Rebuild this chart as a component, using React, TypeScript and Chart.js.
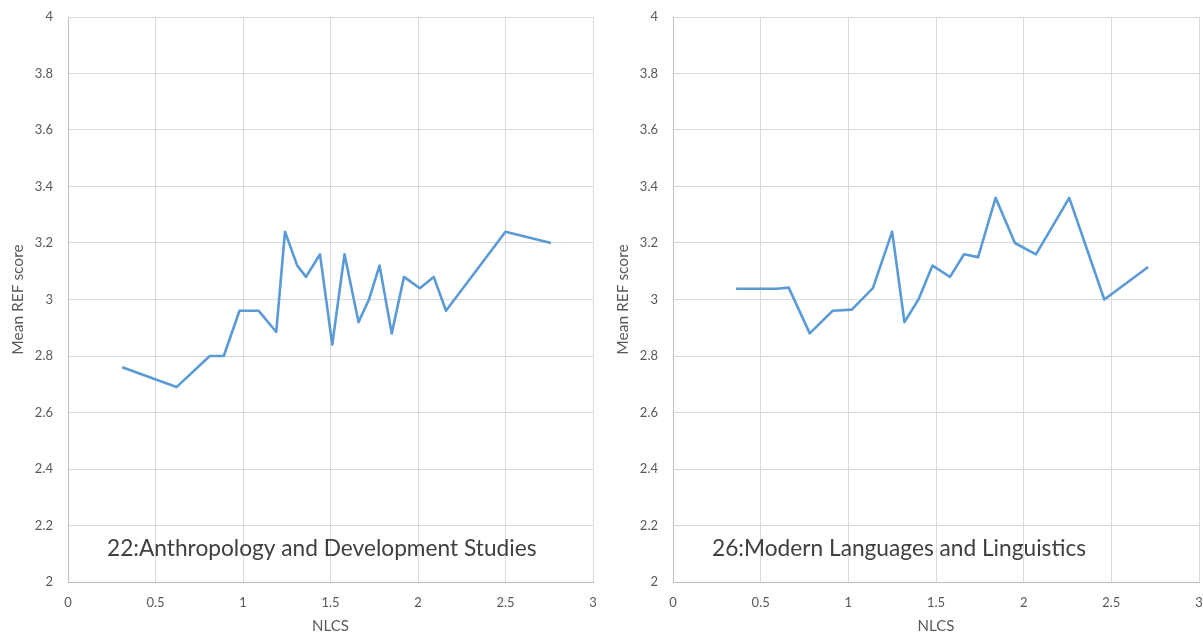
import React, { useEffect, useRef } from "react";
import { Chart, registerables } from "chart.js";

Chart.register(...registerables);

// Left panel: 22 Anthropology and Development Studies
const leftX = [0.31, 0.62, 0.81, 0.89, 0.98, 1.09, 1.19, 1.24, 1.31, 1.36, 1.44, 1.51, 1.58, 1.66, 1.72, 1.78, 1.85, 1.92, 2.01, 2.09, 2.16, 2.5, 2.76];
const leftY = [2.76, 2.69, 2.8, 2.8, 2.96, 2.96, 2.885, 3.24, 3.12, 3.08, 3.16, 2.84, 3.16, 2.92, 3.0, 3.12, 2.88, 3.08, 3.04, 3.08, 2.96, 3.24, 3.2];

// Right panel: 26 Modern Languages and Linguistics
const rightX = [0.36, 0.59, 0.66, 0.78, 0.91, 1.02, 1.14, 1.25, 1.32, 1.4, 1.48, 1.58, 1.66, 1.74, 1.84, 1.95, 2.07, 2.26, 2.46, 2.71];
const rightY = [3.038, 3.038, 3.042, 2.88, 2.96, 2.964, 3.04, 3.24, 2.92, 3.0, 3.12, 3.08, 3.16, 3.15, 3.36, 3.2, 3.16, 3.36, 3.0, 3.115];

const leftLabel = "22:Anthropology and Development Studies";
const rightLabel = "26:Modern Languages and Linguistics";
const xTitle = "NLCS";
const yTitle = "Mean REF score";

const FONT = "Lato";
const TICK_COLOR = "#595959";

function textPlugin(text: string) {
  return {
    id: "panelText",
    afterDraw(chart: any) {
      const { ctx, chartArea } = chart;
      ctx.save();
      ctx.font = `22.7px ${FONT}`;
      ctx.fillStyle = "#404040";
      ctx.textBaseline = "middle";
      ctx.textAlign = "left";
      ctx.fillText(text, chartArea.left + 39, chartArea.bottom - 33);
      ctx.restore();
    },
  };
}

function fmt(v: any) {
  return String(Math.round(Number(v) * 10) / 10);
}

function Panel(props: { xs: number[]; ys: number[]; label: string; left: number; width: number }) {
  const ref = useRef<HTMLCanvasElement>(null);
  useEffect(() => {
    const { xs, ys, label } = props;
    const chart = new Chart(ref.current as HTMLCanvasElement, {
      type: "scatter",
      data: {
        datasets: [
          {
            data: xs.map((x, i) => ({ x, y: ys[i] })),
            showLine: true,
            borderColor: "#5B9BD5",
            backgroundColor: "#5B9BD5",
            borderWidth: 2.6,
            borderJoinStyle: "round",
            pointRadius: 0,
            tension: 0,
            fill: false,
          } as any,
        ],
      },
      options: {
        responsive: false,
        animation: false,
        layout: { padding: { left: 5, right: 7, top: 17, bottom: 0 } },
        plugins: { legend: { display: false }, tooltip: { enabled: false } },
        scales: {
          x: {
            type: "linear",
            min: 0,
            max: 3,
            ticks: { stepSize: 0.5, padding: 3, color: TICK_COLOR, font: { family: FONT, size: 13 }, callback: fmt },
            grid: { color: "#d9d9d9", drawTicks: true, tickLength: 10, tickColor: "rgba(0,0,0,0)" },
            border: { color: "#bfbfbf" },
            title: { display: true, text: xTitle, color: TICK_COLOR, font: { family: FONT, size: 15 }, padding: { top: 4, bottom: 2 } },
            afterFit: (s: any) => {
              s.height = 55;
            },
          },
          y: {
            type: "linear",
            min: 2,
            max: 4,
            ticks: { stepSize: 0.2, padding: 3, color: TICK_COLOR, font: { family: FONT, size: 13 }, callback: fmt },
            grid: { color: "#d9d9d9", drawTicks: true, tickLength: 12, tickColor: "rgba(0,0,0,0)" },
            border: { color: "#bfbfbf" },
            title: { display: true, text: yTitle, color: TICK_COLOR, font: { family: FONT, size: 15.5 }, padding: { top: 4, bottom: 4 } },
            afterFit: (s: any) => {
              s.width = 63;
            },
          },
        } as any,
      },
      plugins: [textPlugin(label)],
    });
    return () => chart.destroy();
  }, []);
  return (
    <canvas
      ref={ref}
      width={props.width}
      height={637}
      style={{ position: "absolute", left: props.left, top: 0, width: props.width, height: 637 }}
    />
  );
}

export default function App() {
  useEffect(() => {
    document.body.style.margin = "0";
  }, []);
  return (
    <div style={{ position: "relative", width: 1203, height: 637, background: "#fff", overflow: "hidden" }}>
      <Panel xs={leftX} ys={leftY} label={leftLabel} left={0} width={600} />
      <Panel xs={rightX} ys={rightY} label={rightLabel} left={605} width={601} />
    </div>
  );
}
